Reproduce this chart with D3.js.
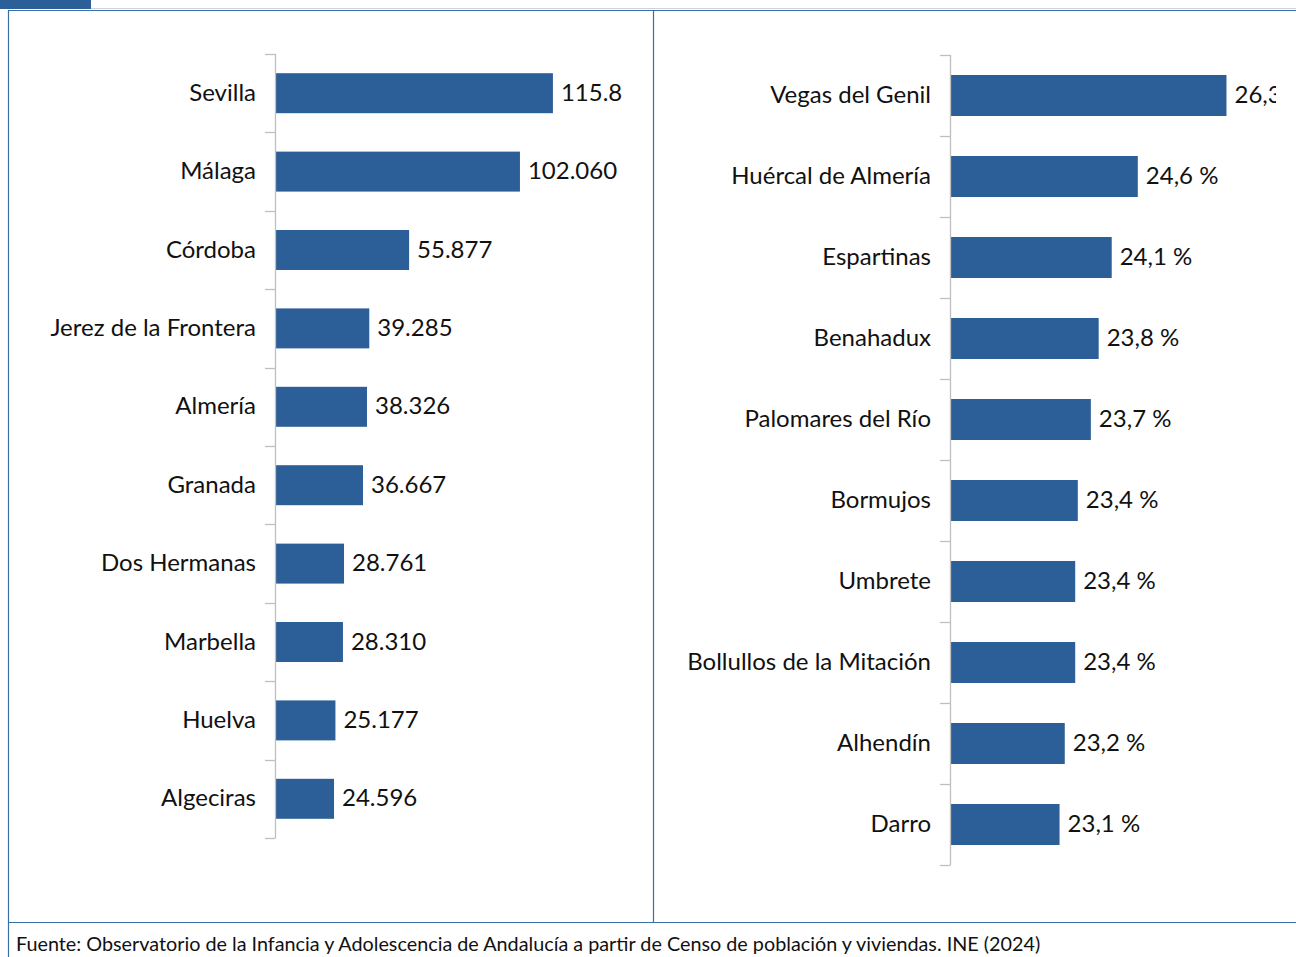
<!DOCTYPE html>
<html><head><meta charset="utf-8">
<script src="https://cdn.jsdelivr.net/npm/d3@7"></script>
<style>body{margin:0;background:#fff}svg{display:block}</style>
</head><body>
<svg id="c" width="1296" height="957"></svg>
<script>
const leftCategories = ["Sevilla","Málaga","Córdoba","Jerez de la Frontera","Almería","Granada","Dos Hermanas","Marbella","Huelva","Algeciras"];
const leftValues = [115800,102060,55877,39285,38326,36667,28761,28310,25177,24596];
const leftLabels = ["115.8","102.060","55.877","39.285","38.326","36.667","28.761","28.310","25.177","24.596"];

const rightCategories = ["Vegas del Genil","Huércal de Almería","Espartinas","Benahadux","Palomares del Río","Bormujos","Umbrete","Bollullos de la Mitación","Alhendín","Darro"];
const rightValues = [26.3,24.6,24.1,23.85,23.7,23.45,23.4,23.4,23.2,23.1];
const rightLabels = ["26,3 %","24,6 %","24,1 %","23,8 %","23,7 %","23,4 %","23,4 %","23,4 %","23,2 %","23,1 %"];

const source = "Fuente: Observatorio de la Infancia y Adolescencia de Andalucía a partir de Censo de población y viviendas. INE (2024)";

const svg = d3.select("#c");
const BAR = "#2C5F97", FONT = "Lato, 'Open Sans', sans-serif";

// frame
svg.append("rect").attr("x",0).attr("y",0).attr("width",91).attr("height",9).attr("fill",BAR);
svg.append("line").attr("x1",91).attr("x2",1296).attr("y1",8.5).attr("y2",8.5).attr("stroke","#c9d3e0").attr("stroke-width",1);
svg.append("line").attr("x1",8).attr("x2",1296).attr("y1",10.5).attr("y2",10.5).attr("stroke","#3a6ea8").attr("stroke-width",1.2);
svg.append("line").attr("x1",8.5).attr("x2",8.5).attr("y1",10).attr("y2",957).attr("stroke","#3a6ea8").attr("stroke-width",1.2);
svg.append("line").attr("x1",653.5).attr("x2",653.5).attr("y1",10).attr("y2",922).attr("stroke","#3a6ea8").attr("stroke-width",1.2);
svg.append("line").attr("x1",8).attr("x2",1296).attr("y1",922.5).attr("y2",922.5).attr("stroke","#3a6ea8").attr("stroke-width",1.2);

svg.append("defs").append("clipPath").attr("id","rc").append("rect")
  .attr("x",654).attr("y",11).attr("width",1276-654).attr("height",910);

function panel(cats, vals, labels, xDomain, xRange, yRange, barRatio, labelX, clip) {
  const g = svg.append("g");
  if (clip) g.attr("clip-path","url(#rc)");
  const x = d3.scaleLinear().domain(xDomain).range(xRange);
  const y = d3.scaleBand().domain(cats).range(yRange).padding(0);
  const bh = y.bandwidth()*barRatio;
  g.selectAll("rect.bar").data(cats).join("rect").attr("class","bar")
    .attr("x", xRange[0]).attr("y", d => y(d) + (y.bandwidth()-bh)/2)
    .attr("width", (d,i) => x(vals[i]) - xRange[0]).attr("height", bh).attr("fill", BAR);
  const ax = xRange[0];
  g.append("line").attr("x1",ax+0.5).attr("x2",ax+0.5).attr("y1",yRange[0]).attr("y2",yRange[1]).attr("stroke","#bfbfbf").attr("stroke-width",1.3);
  const edges = cats.map(c => y(c)).concat([yRange[1]]);
  g.selectAll("line.tk").data(edges).join("line").attr("class","tk")
    .attr("x1",ax-10).attr("x2",ax+0.5).attr("y1",d=>Math.round(d)+0.5).attr("y2",d=>Math.round(d)+0.5)
    .attr("stroke","#bfbfbf").attr("stroke-width",1.3);
  g.selectAll("text.cat").data(cats).join("text").attr("class","cat")
    .attr("x", ax - labelX).attr("y", d => y(d)+y.bandwidth()/2).attr("dy","0.32em")
    .attr("text-anchor","end").attr("font-family",FONT).attr("font-size",24).attr("fill","#111").text(d=>d);
  g.selectAll("text.val").data(cats).join("text").attr("class","val")
    .attr("x", (d,i) => x(vals[i]) + 8).attr("y", d => y(d)+y.bandwidth()/2).attr("dy","0.32em")
    .attr("font-family",FONT).attr("font-size",24).attr("fill","#111").text((d,i)=>labels[i]);
}

panel(leftCategories, leftValues, leftLabels, [0,140000], [275,611], [54,838], 0.51, 19, false);
panel(rightCategories, rightValues, rightLabels, [21,27], [950,1263], [55,865], 0.506, 19, true);

svg.append("text").attr("x",16).attr("y",951).attr("font-family",FONT).attr("font-size",19.8).attr("fill","#111").text(source);
</script>
</body></html>
